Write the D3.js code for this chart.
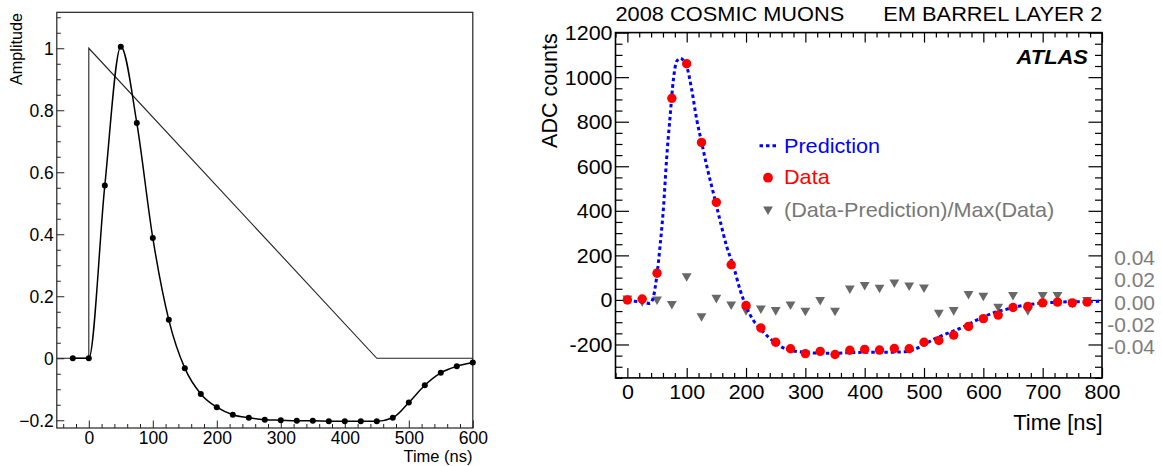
<!DOCTYPE html>
<html><head><meta charset="utf-8">
<script src="https://cdn.jsdelivr.net/npm/d3@7"></script>
<style>
html,body{margin:0;padding:0;background:#fff;}
svg{display:block;font-family:'Liberation Sans',Arial,Helvetica,sans-serif;}
</style></head><body>
<svg id="c" width="1162" height="466"></svg>
<script>
// ---------- LEFT PANEL DATA ----------
const shapeTime = [-50, 0, 0, 450, 600];
const shapeAmp  = [0, 0, 1, 0, 0];
const pulseTime = [-25,0,25,50,75,100,125,150,175,200,225,250,275,300,325,350,375,400,425,450,475,500,525,550,575,600];
const pulseAmp  = [0,0,0.557,1.005,0.759,0.388,0.124,-0.032,-0.115,-0.158,-0.182,-0.192,-0.198,-0.200,-0.202,-0.202,-0.203,-0.203,-0.203,-0.203,-0.192,-0.143,-0.087,-0.047,-0.026,-0.014];
const leftXTicks = [0,100,200,300,400,500,600];
const leftXLabels = ["0","100","200","300","400","500","600"];
const leftYTicks = [-0.2,0,0.2,0.4,0.6,0.8,1];
const leftYLabels = ["\u22120.2","0","0.2","0.4","0.6","0.8","1"];

// ---------- RIGHT PANEL DATA ----------
const dataTime = [0,25,50,75,100,125,150,175,200,225,250,275,300,325,350,375,400,425,450,475,500,525,550,575,600,625,650,675,700,725,750,775];
const dataADC  = [0,4,120,905,1060,707,438,158,-25,-126,-190,-219,-241,-231,-245,-226,-222,-225,-218,-219,-190,-182,-158,-119,-84,-68,-34,-29,-13,-10,-13,-10];
const residual = [0.0015,-0.001,0.0006,-0.0035,0.0215,-0.0145,0.002,-0.0039,-0.009,-0.0075,-0.009,-0.004,-0.0096,0.0,-0.0096,0.0105,0.0135,0.011,0.0159,0.0132,0.0114,-0.0114,-0.009,0.0054,0.0039,-0.006,0.0045,-0.009,0.0045,0.0045,-0.0024,0.0];
const predTime = [0,12,25,38,44,49.5,55,61,66,72,77.5,83,89,94,101,108.5,117,125.5,134,145,156,167.5,179,190,201,212,226,240,254,268,291,325,353,381,409,437,465,482,499,516,533,550,567,584,601,618,635,652,674,697,719,747,775,800];
const predADC  = [-2,-6,-9,-16,15,105,239,419,628,823,988,1070,1085,1077,1040,943,808,703,599,479,359,239,150,45,-35,-90,-135,-172,-202,-221,-233,-239,-239,-236,-235,-235,-233,-224,-202,-177,-157,-139,-120,-97,-75,-57,-45,-33,-22,-15,-11,-8,-8,-5];
const rightXTicks = [0,100,200,300,400,500,600,700,800];
const rightXLabels = ["0","100","200","300","400","500","600","700","800"];
const rightYTicks = [-200,0,200,400,600,800,1000,1200];
const rightYLabels = ["-200","0","200","400","600","800","1000","1200"];
const ratioTicks = [0.04,0.02,0,-0.02,-0.04];
const ratioLabels = ["0.04","0.02","0.00","-0.02","-0.04"];
const legendLabels = ["Prediction","Data","(Data-Prediction)/Max(Data)"];

const svg = d3.select('#c');
const FONT = "'Liberation Sans',Arial,Helvetica,sans-serif";

function addAxis(axis, transform, color, width){
  const a = svg.append('g').attr('transform', transform).call(axis);
  a.attr('font-size', null).attr('font-family', null);
  a.select('.domain').remove();
  a.selectAll('line').attr('stroke', color).attr('stroke-width', width);
  return a;
}
function txt(x, y, s, o){
  let tr = `translate(${x},${y}) scale(${o.sx||1},1)` + (o.rot ? ` rotate(${o.rot})` : '');
  return svg.append('text').attr('transform', tr).attr('text-anchor', o.anchor||'start')
    .attr('font-size', o.size).attr('fill', o.fill||'#000')
    .attr('font-weight', o.weight||'normal').attr('font-style', o.style||'normal').text(s);
}

// ================= LEFT =================
const xL = d3.scaleLinear([-50,600],[56.8,472.8]);
const yL = d3.scaleLinear([-0.225,1.116],[428,12.3]);
const lcol = '#222';

const xLMinor = d3.range(-2,31).map(i=>i*20).filter(v=>v%100!==0);
const yLMinor = d3.range(-4,23).filter(i=>i%4!==0).map(i=>i*0.05);

addAxis(d3.axisBottom(xL).tickValues(xLMinor).tickSize(-4).tickFormat(''), `translate(0,${yL.range()[0]})`, lcol, 1);
const lxa = addAxis(d3.axisBottom(xL).tickValues(leftXTicks).tickSize(-7.5).tickFormat((d,i)=>leftXLabels[i]), `translate(0,${yL.range()[0]})`, lcol, 1);
lxa.selectAll('text').attr('y', null).attr('dy', null).attr('transform','translate(0,15.5)')
   .attr('font-size', 17.5).attr('fill','#000').attr('font-family', FONT);
addAxis(d3.axisLeft(yL).tickValues(yLMinor).tickSize(-4).tickFormat(''), `translate(${xL.range()[0]},0)`, lcol, 1);
const lya = addAxis(d3.axisLeft(yL).tickValues(leftYTicks).tickSize(-7.5).tickFormat((d,i)=>leftYLabels[i]), `translate(${xL.range()[0]},0)`, lcol, 1);
lya.selectAll('text').attr('x', -3).attr('dy','0.36em').attr('text-anchor','end')
   .attr('font-size', 17.5).attr('fill','#000').attr('font-family', FONT);

svg.append('rect').attr('x', xL.range()[0]).attr('y', yL.range()[1])
  .attr('width', xL.range()[1]-xL.range()[0]).attr('height', yL.range()[0]-yL.range()[1])
  .attr('fill','none').attr('stroke', lcol).attr('stroke-width', 1.2);

const shapeLine = d3.line().x(i=>xL(shapeTime[i])).y(i=>yL(shapeAmp[i]));
svg.append('path').attr('d', shapeLine(d3.range(shapeTime.length)))
  .attr('fill','none').attr('stroke','#222').attr('stroke-width',1.1);

const pulseLine = d3.line().x(i=>xL(pulseTime[i])).y(i=>yL(pulseAmp[i])).curve(d3.curveMonotoneX);
svg.append('path').attr('d', pulseLine(d3.range(pulseTime.length)))
  .attr('fill','none').attr('stroke','#000').attr('stroke-width',1.5);
svg.append('g').selectAll('circle').data(d3.range(pulseTime.length)).join('circle')
  .attr('cx', i=>xL(pulseTime[i])).attr('cy', i=>yL(pulseAmp[i])).attr('r', 3).attr('fill','#000');

txt(472.5, 461.5, 'Time (ns)', {size:16.5, anchor:'end'});
txt(22, 13, 'Amplitude', {size:16.2, anchor:'end', rot:-90});

// ================= RIGHT =================
const xR = d3.scaleLinear([-20,800],[615.5,1102]);
const yR = d3.scaleLinear([-350,1200],[377.9,32.6]);
const rR = d3.scaleLinear([-350/5000,1200/5000],[377.9,32.6]);
const SX = 1.1;

const xRMinor = d3.range(-1,41).map(i=>i*20).filter(v=>v%100!==0);
const yRMinor = d3.range(-7,24).map(i=>i*50).filter(v=>v%200!==0);

[[d3.axisBottom, yR.range()[0]],[d3.axisTop, yR.range()[1]]].forEach(([ax, y])=>{
  addAxis(ax(xR).tickValues(xRMinor).tickSize(-5).tickFormat(''), `translate(0,${y})`, '#000', 1.2);
});
addAxis(d3.axisTop(xR).tickValues(rightXTicks).tickSize(-10).tickFormat(''), `translate(0,${yR.range()[1]})`, '#000', 1.2);
const rxa = addAxis(d3.axisBottom(xR).tickValues(rightXTicks).tickSize(-10).tickFormat((d,i)=>rightXLabels[i]), `translate(0,${yR.range()[0]})`, '#000', 1.2);
rxa.selectAll('text').attr('y', null).attr('dy', null).attr('transform',`translate(0,21) scale(${SX},1)`)
   .attr('font-size', 19.5).attr('fill','#000').attr('font-family', FONT);

[[d3.axisLeft, xR.range()[0]],[d3.axisRight, xR.range()[1]]].forEach(([ax, x])=>{
  addAxis(ax(yR).tickValues(yRMinor).tickSize(-7).tickFormat(''), `translate(${x},0)`, '#000', 1.2);
});
addAxis(d3.axisRight(yR).tickValues(rightYTicks).tickSize(-13.5).tickFormat(''), `translate(${xR.range()[1]},0)`, '#000', 1.2);
const rya = addAxis(d3.axisLeft(yR).tickValues(rightYTicks).tickSize(-13.5).tickFormat((d,i)=>rightYLabels[i]), `translate(${xR.range()[0]},0)`, '#000', 1.2);
rya.selectAll('text').attr('x', null).attr('dy','0.36em').attr('text-anchor','end')
   .attr('transform',`translate(-3,0) scale(${SX},1)`)
   .attr('font-size', 19.5).attr('fill','#000').attr('font-family', FONT);

const raa = addAxis(d3.axisRight(rR).tickValues(ratioTicks).tickSize(0).tickFormat((d,i)=>ratioLabels[i]), `translate(${xR.range()[1]},0)`, '#7d7d7d', 0);
raa.selectAll('line').remove();
raa.selectAll('text').attr('x', null).attr('dy','0.36em').attr('text-anchor','end')
   .attr('transform',`translate(53,2) scale(1.05,1)`)
   .attr('font-size', 20).attr('fill','#7d7d7d').attr('font-family', FONT);

svg.append('rect').attr('x', xR.range()[0]).attr('y', yR.range()[1])
  .attr('width', xR.range()[1]-xR.range()[0]).attr('height', yR.range()[0]-yR.range()[1])
  .attr('fill','none').attr('stroke', '#000').attr('stroke-width', 1.6);

// residual triangles
const tri = d3.symbol(d3.symbolTriangle, 42);
svg.append('g').selectAll('path').data(d3.range(dataTime.length)).join('path')
  .attr('d', tri).attr('fill','#686868')
  .attr('transform', i=>`translate(${xR(dataTime[i])},${rR(residual[i])}) rotate(180)`);

// prediction
const predLine = d3.line().x(i=>xR(predTime[i])).y(i=>yR(predADC[i])).curve(d3.curveMonotoneX);
svg.append('path').attr('d', predLine(d3.range(predTime.length)))
  .attr('fill','none').attr('stroke','#0000ff').attr('stroke-width',3).attr('stroke-dasharray','3.5,3');

// data
svg.append('g').selectAll('circle').data(d3.range(dataTime.length)).join('circle')
  .attr('cx', i=>xR(dataTime[i])).attr('cy', i=>yR(dataADC[i])).attr('r', 4.7).attr('fill','#ff0000');

// texts
txt(615.5, 20.7, '2008 COSMIC MUONS', {size:20, sx:1.09});
txt(1102.5, 20.7, 'EM BARREL LAYER 2', {size:20, sx:1.09, anchor:'end'});
txt(1088, 64, 'ATLAS', {size:20.5, sx:1.07, anchor:'end', weight:'bold', style:'italic'});
txt(556.5, 33.3, 'ADC counts', {size:21.5, sx:1.05, anchor:'end', rot:-90});
txt(1102.5, 430, 'Time [ns]', {size:21.5, sx:1.02, anchor:'end'});

// legend
svg.append('line').attr('x1',759.5).attr('x2',777).attr('y1',145.7).attr('y2',145.7)
  .attr('stroke','#0000ff').attr('stroke-width',3).attr('stroke-dasharray','3.5,3');
txt(784, 152.7, legendLabels[0], {size:20.6, sx:1.05, fill:'#0000ff'});
svg.append('circle').attr('cx',768).attr('cy',177.7).attr('r',4.9).attr('fill','#ff0000');
txt(784, 184.3, legendLabels[1], {size:20.6, sx:1.05, fill:'#ff0000'});
svg.append('path').attr('d', tri).attr('fill','#686868').attr('transform','translate(768,209.3) rotate(180)');
txt(784, 216.7, legendLabels[2], {size:20.6, sx:1.05, fill:'#777777'});
</script>
</body></html>
